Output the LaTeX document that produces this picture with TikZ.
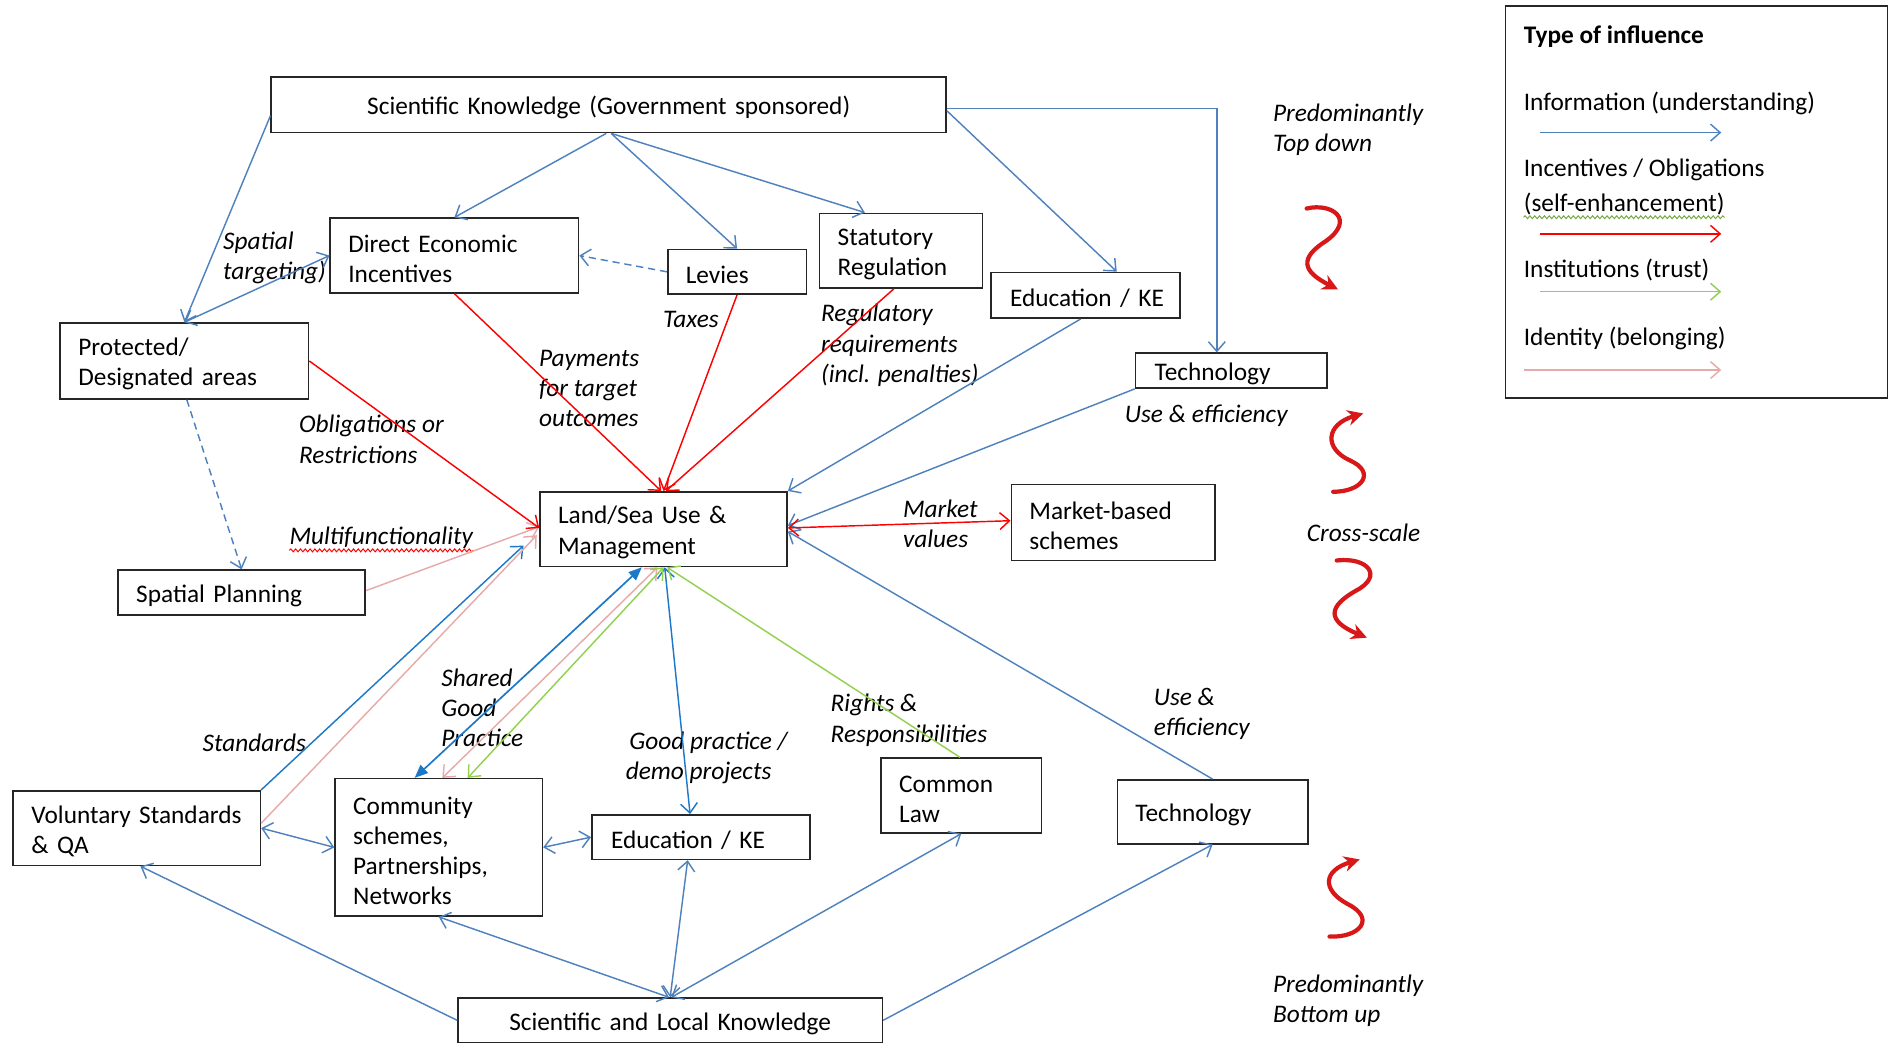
\documentclass[tikz,border=0pt]{standalone}
\usepackage{fontspec}
\setmainfont{Carlito}
\usetikzlibrary{arrows.meta,calc,decorations.pathmorphing}
\definecolor{infob}{HTML}{4F81BD}
\definecolor{infob2}{HTML}{1E78C8}
\definecolor{incr}{HTML}{FF0000}
\definecolor{instg}{HTML}{92D050}
\definecolor{idenp}{HTML}{E6AAAA}
\definecolor{curvr}{HTML}{D81818}
\newcommand\myfs{\fontsize{21bp}{25bp}\selectfont}
\begin{document}
\begin{tikzpicture}[x=1bp,y=-1bp,
  >={Straight Barb[length=8bp,width=14bp]},
  bx/.style={draw=black!85, line width=1.3bp, inner xsep=15bp, inner ysep=0pt, align=left, font=\myfs,
    execute at begin node={\rule{0pt}{20bp}}},
  lbl/.style={font=\myfs\itshape, align=left, inner sep=0pt, anchor=west, yshift=-2bp},
  ltxt/.style={font=\myfs, align=left, inner sep=0pt, anchor=west, yshift=-2bp},
  conn/.style={line width=1.2bp},
  info/.style={conn, draw=infob},
  infoB/.style={conn, draw=infob2},
  inc/.style={conn, draw=incr},
  inst/.style={conn, draw=instg},
  iden/.style={conn, draw=idenp},
  dsh/.style={dash pattern=on 6bp off 4bp},
  curv/.style={line width=3.5bp, draw=curvr, line cap=round, -{Stealth[length=13bp,width=13bp]}},
  wavy/.style={line width=0.8bp, decorate, decoration={snake, amplitude=1.2bp, segment length=4bp}}
]
\useasboundingbox (0,0) rectangle (1568,866);

% ---------- boxes ----------
\node[bx, text width=530bp, minimum height=46bp, align=center] (sci) at (505,87) {Scientific Knowledge (Government sponsored)};
\node[bx, text width=176bp, minimum height=62bp] (dei) at (377,212) {Direct Economic\\Incentives};
\node[bx, text width=85bp, minimum height=37bp] (lev) at (611.5,225.5) {Levies};
\node[bx, text width=105bp, minimum height=62bp] (stat) at (747.5,208) {Statutory\\Regulation};
\node[bx, text width=125bp, inner xsep=16bp, minimum height=38bp] (eke1) at (900.5,245) {\mbox{Education / KE}};
\node[bx, text width=127bp, inner xsep=16bp, minimum height=29bp] (tech1) at (1021.5,307.5) {Technology};
\node[bx, text width=176bp, minimum height=63bp] (prot) at (153,299.5) {Protected/\\Designated areas};
\node[bx, text width=175bp, minimum height=62bp] (lsu) at (550.5,439) {Land/Sea Use \&\\Management};
\node[bx, text width=139bp, minimum height=63bp] (mkt) at (923.5,433.5) {Market-based\\schemes};
\node[bx, text width=175bp, minimum height=37bp] (sp) at (200.5,491.5) {Spatial Planning};
\node[bx, text width=175bp, minimum height=62bp] (vol) at (113.5,687) {\mbox{Voluntary Standards}\\\& QA};
\node[bx, text width=142bp, minimum height=114bp] (com) at (364,703) {Community\\schemes,\\Partnerships,\\Networks};
\node[bx, text width=149bp, inner xsep=16bp, minimum height=37bp] (eke2) at (581.5,694.5) {\mbox{Education / KE}};
\node[bx, text width=103bp, minimum height=62bp] (law) at (797.5,660) {Common\\Law};
\node[bx, text width=128bp, minimum height=53bp] (tech2) at (1006,673.5) {Technology};
\node[bx, text width=322bp, minimum height=37bp, align=center] (slk) at (556,846.5) {Scientific and Local Knowledge};

% ---------- legend ----------
\node[draw=black!85, line width=1.3bp, minimum width=317bp, minimum height=325bp, inner sep=0pt] (leg) at (1407.5,167.5) {};
\node[ltxt, font=\myfs\bfseries] (lgt) at (1264,28) {Type of influence};
\node[ltxt] (lg1) at (1264,84) {Information (understanding)};
\node[ltxt] (lg2) at (1264,139) {Incentives / Obligations};
\node[ltxt] (lg3) at (1264,167) {(self-enhancement)};
\node[ltxt] (lg4) at (1264,222) {Institutions (trust)};
\node[ltxt] (lg5) at (1264,279) {Identity (belonging)};
\coordinate (la1) at (1278,110); \coordinate (lb1) at (1428,110);
\coordinate (la2) at (1278,194); \coordinate (lb2) at (1428,194);
\coordinate (la3) at (1278,242); \coordinate (lb3) at (1428,242);
\coordinate (la4) at (1264,307); \coordinate (lb4) at (1428,307);
\draw[info,->] (la1) -- (lb1);
\draw[inc,->] (la2) -- (lb2);
\draw[inst,->] (la3) -- (lb3);
\draw[iden,->] (la4) -- (lb4);
\draw[instg!80!black, wavy] ([yshift=-5bp]lg3.base west) -- ([yshift=-5bp]lg3.base east);

% ---------- labels ----------
\node[lbl] (tl1) at (1056,105.5) {Predominantly\\Top down};
\node[lbl] (tl2) at (185,212) {Spatial\\targeting)};
\node[lbl] (tl3) at (550,263) {Taxes};
\node[lbl] (tl4) at (447,320.5) {Payments\\for target\\outcomes};
\node[lbl] (tl5) at (681,284.5) {Regulatory\\requirements\\(incl. penalties)};
\node[lbl] (tl6) at (248,362.5) {Obligations or\\Restrictions};
\node[lbl] (tl7) at (933,343) {Use \& efficiency};
\node[lbl] (mf) at (240,444) {Multifunctionality};
\draw[incr, wavy] ([yshift=-5bp]mf.base west) -- ([yshift=-5bp]mf.base east);
\node[lbl] (tl8) at (749,432.5) {Market\\values};
\node[lbl] (tl9) at (1084,440) {Cross-scale};
\node[lbl] (tl10) at (366,585) {Shared\\Good\\Practice};
\node[lbl] (tl11) at (168,614) {Standards};
\node[lbl] (tl12) at (519,627) {\hspace*{3bp}Good practice /\\demo projects};
\node[lbl] (tl13) at (689,595.5) {Rights \&\\Responsibilities};
\node[lbl] (tl14) at (957,590.5) {Use \&\\efficiency};
\node[lbl] (tl15) at (1056,828.5) {Predominantly\\Bottom up};

% ---------- connectors: information (blue) ----------
\draw[info,->] ([xshift=-2bp]sci.south) -- (dei.north);
\draw[info,->] ([xshift=2bp]sci.south) -- (lev.north);
\draw[info,->] ([xshift=2bp]sci.south) -- ([xshift=-30bp]stat.north);
\draw[info,->] ([yshift=-5bp]sci.east) -- ([xshift=26bp]eke1.north);
\draw[info,->] ([yshift=-3bp]sci.east) -| ([xshift=-12bp]tech1.north);
\draw[info,->] ([yshift=-9bp]sci.west) -- (prot.north);
\draw[info,<->] (prot.north) -- (dei.west);
\draw[info,->,dsh] (lev.west) -- (dei.east);
\draw[info,->,dsh] ([xshift=2bp]prot.south) -- (sp.north);
\draw[info,->] ([xshift=-4bp]eke1.south) -- (lsu.north east);
\draw[info,->] (tech1.south west) -- ([yshift=3bp]lsu.east);
\draw[info,->] (tech2.north) -- ([yshift=-2bp]lsu.east);
\draw[infoB,->] (vol.north east) -- ($(lsu.south west)+(-13,-18)$);
\draw[infoB,line width=1.4bp,{Triangle[length=11bp,width=9bp]}-{Triangle[length=11bp,width=9bp]}] ([xshift=-20bp]com.north) -- ([xshift=-18bp]lsu.south);
\draw[infoB,<->] ([xshift=1bp]lsu.south) -- ([xshift=-9bp]eke2.north);
\draw[info,<->] (vol.east) -- (com.west);
\draw[info,<->] (com.east) -- (eke2.west);
\draw[info,->] (slk.west) -- ([xshift=3bp]vol.south);
\draw[info,<->] ([xshift=-1bp]slk.north) -- (com.south);
\draw[info,<->] (slk.north) -- ([xshift=-11bp]eke2.south);
\draw[info,<->] ([xshift=1bp]slk.north) -- (law.south);
\draw[info,->] (slk.east) -- (tech2.south);

% ---------- identity (pink) ----------
\draw[iden,<->] ([xshift=3bp]com.north) -- ([xshift=-5bp]lsu.south);
\draw[iden,->] ([yshift=1.5bp]sp.east) -- ([yshift=2bp]lsu.west);
\draw[iden,->] ([yshift=4bp]vol.east) -- ($(lsu.west)+(-2,5)$);

% ---------- institutions (green) ----------
\draw[inst,<->] ([xshift=24bp]com.north) -- (lsu.south);
\draw[inst,->] ([xshift=-1bp]law.north) -- ([xshift=3bp]lsu.south);

% ---------- incentives (red) ----------
\draw[inc,->] (prot.east) -- ([yshift=1bp]lsu.west);
\draw[inc,->] (dei.south) -- ([xshift=-2bp]lsu.north);
\draw[inc,->] (lev.south) -- (lsu.north);
\draw[inc,->] ([xshift=-6bp]stat.south) -- ([xshift=2bp]lsu.north);
\draw[inc,<->] ([yshift=1bp]lsu.east) -- ([yshift=1.5bp]mkt.west);

% ---------- curved scale arrows ----------
\draw[curv] (1084,173) .. controls (1105,168) and (1125,182) .. (1100,200) .. controls (1078,214) and (1080,225) .. (1110,240);
\draw[curv] (1106,408) .. controls (1130,408) and (1142,392) .. (1120,382) .. controls (1098,372) and (1100,352) .. (1131,343);
\draw[curv] (1109,465) .. controls (1135,462) and (1148,478) .. (1125,490) .. controls (1102,503) and (1100,515) .. (1134,529);
\draw[curv] (1103,777) .. controls (1128,778) and (1142,762) .. (1118,750) .. controls (1096,738) and (1098,722) .. (1128,713);
\end{tikzpicture}
\end{document}
